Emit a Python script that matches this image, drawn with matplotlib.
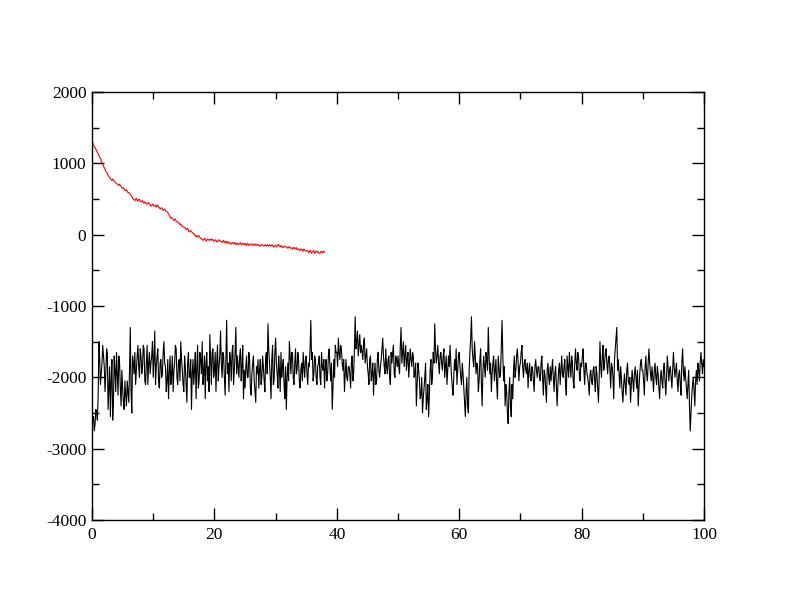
import numpy as np
import matplotlib
matplotlib.use("Agg")
import matplotlib.pyplot as plt
from matplotlib.ticker import MultipleLocator

# black series, sampled every 0.25 on x (0 .. 100)
black = [
    -2700, -2550, -2650, -2500, -2250, -1750, -1950, -1550, -1850, -1950, -1650, -2150,
    -2550, -1750, -2350, -1900, -1650, -2250, -1800, -2400, -2150, -2450, -2250, -2050,
    -2350, -1300, -2500, -1800, -1650, -1900, -1550, -2000, -1700, -1850, -1600, -2100,
    -1550, -1800, -1950, -1700, -2000, -1350, -1850, -1600, -2150, -1750, -1950, -1500,
    -1850, -2050, -2300, -1700, -1950, -2200, -1800, -1600, -2100, -1750, -1500, -1900,
    -2200, -1850, -2350, -1650, -2000, -2450, -1750, -1900, -2300, -1550, -2050, -1750,
    -1500, -1950, -2300, -1650, -1850, -1400, -2100, -1600, -1900, -2200, -1550, -1850,
    -1350, -2000, -1700, -2250, -1200, -1800, -1650, -2050, -1550, -1900, -1300, -1700,
    -2000, -1600, -1850, -2300, -2150, -1700, -2000, -1750, -2250, -1800, -2050, -2350,
    -1950, -2150, -1750, -2000, -1850, -2200, -1650, -1250, -1800, -2300, -1550, -2050,
    -1450, -1950, -1700, -2200, -2000, -1750, -2300, -2450, -1800, -1500, -1950, -1650,
    -2100, -1600, -1900, -1750, -2150, -1800, -1650, -2000, -1700, -2100, -1850, -1200,
    -1650, -1950, -1750, -2100, -1800, -2000, -1650, -1900, -2150, -1750, -1950, -1600,
    -2050, -2450, -1750, -1550, -1650, -1450, -1750, -1600, -1900, -2200, -1750, -2050,
    -1850, -2150, -1700, -1950, -1150, -1500, -1700, -1400, -1550, -1750, -1450, -1700,
    -1850, -2100, -1700, -1950, -2250, -1800, -2050, -1650, -2000, -1750, -1450, -1850,
    -1600, -1950, -1700, -2100, -1800, -1550, -2000, -1750, -1700, -1950, -1300, -1650,
    -1850, -1550, -1750, -2000, -1600, -1850, -1700, -1950, -2400, -1800, -2050, -2250,
    -2500, -2150, -1800, -2300, -2550, -1900, -2100, -1650, -1250, -1800, -1550, -1950,
    -1650, -1900, -1600, -1850, -2100, -1700, -1550, -2000, -2250, -1750, -1600, -1900,
    -1650, -2000, -1800, -2150, -2550, -2000, -2500, -1650, -1150, -1750, -1500, -1950,
    -1850, -2050, -1600, -2400, -1700, -2000, -1750, -1300, -1950, -2200, -1800, -2050,
    -1750, -2300, -1850, -1950, -1200, -2050, -2400, -2200, -2650, -2000, -2550, -2300,
    -1700, -1900, -1600, -2050, -1800, -1550, -2000, -1750, -1950, -2150, -1800, -2050,
    -1900, -2200, -1750, -2000, -1850, -2050, -1700, -2250, -1950, -2350, -1800, -2100,
    -2050, -1750, -2200, -1850, -2400, -1900, -2100, -1700, -2000, -1750, -2250, -1850,
    -1650, -2000, -1800, -2150, -1600, -1900, -1700, -2050, -1850, -1600, -2100, -1800,
    -2000, -2250, -1900, -2100, -1850, -2200, -1950, -2350, -1500, -2000, -1550, -1800,
    -1600, -1950, -1700, -2150, -1850, -2300, -1600, -1300, -1750, -2150, -2000, -2350,
    -1950, -2250, -1800, -2100, -2350, -1900, -2200, -1850, -2150, -2400, -1950, -1750,
    -1900, -2250, -1700, -2050, -1600, -1950, -1850, -2200, -1800, -2100, -1950, -2300,
    -1900, -2150, -1800, -2250, -1700, -2050, -1850, -2150, -1650, -2000, -1800, -2200,
    -1900, -2250, -1600, -2050, -2000, -2300, -1900, -2750, -2250, -2000, -2400, -1900,
    -1800, -2050, -1650, -1950, -1850,
]

# black samples in between (x = 0.125, 0.375, ...)
black_mid = [
    -2600, -2750, -2450, -2600, -1500, -2100, -1800, -1700, -2200, -1600, -2450, -1850,
    -2050, -2600, -1700, -2200, -1950, -1700, -2150, -1900, -2350, -2050, -2400, -2200,
    -1900, -2200, -1700, -1950, -2100, -1700, -1850, -1600, -1950, -1550, -2050, -1800,
    -2100, -1650, -1800, -1500, -1750, -2100, -1700, -2050, -1800, -2000, -1650, -1800,
    -2200, -1750, -1950, -2100, -1700, -1900, -1550, -2000, -1800, -2050, -1750, -2100,
    -1700, -2100, -1800, -2000, -1750, -1950, -2100, -1650, -1850, -2150, -1650, -1950,
    -2100, -1700, -1800, -2050, -2200, -1750, -1650, -2000, -1650, -1800, -2050, -1700,
    -1800, -1650, -2000, -1700, -1950, -2200, -1750, -1650, -2100, -1650, -1950, -1850,
    -1700, -2050, -1550, -1900, -1850, -2000, -1650, -2150, -1950, -1700, -2200, -1850,
    -1750, -1900, -2100, -1700, -2050, -1700, -1950, -1600, -2000, -1750, -2100, -1650,
    -1800, -2150, -1900, -1650, -1850, -2100, -1850, -2000, -2050, -1700, -1650, -2000,
    -1800, -1950, -1650, -2050, -1900, -2050, -1850, -1750, -1950, -1800, -1600, -1750,
    -2050, -1700, -2000, -1850, -1700, -2100, -1850, -1750, -1850, -2050, -1700, -1850,
    -1800, -2150, -2000, -1650, -1850, -1650, -1550, -1800, -1750, -1950, -2000, -1850,
    -1950, -1800, -2050, -1600, -1600, -1350, -1550, -1650, -1650, -1500, -1800, -1600,
    -1950, -1750, -2050, -1800, -1950, -2100, -1750, -1900, -1850, -1600, -1700, -1950,
    -1850, -1750, -2000, -1650, -1650, -1950, -1700, -1850, -1850, -1550, -1800, -1500,
    -1700, -1900, -1650, -1800, -1750, -1650, -2000, -1800, -2100, -1900, -2300, -2000,
    -2300, -2000, -2450, -2100, -2250, -1750, -2000, -1800, -1600, -1700, -1800, -1700,
    -1800, -1700, -2000, -1700, -1900, -1850, -1800, -2150, -1950, -1900, -2100, -1700,
    -1850, -2100, -1950, -2350, -2200, -2400, -1900, -1450, -1600, -1850, -1700, -1800,
    -2200, -1750, -2100, -1900, -1850, -1650, -1900, -1700, -1800, -1950, -1700, -1900,
    -2100, -1700, -2000, -1600, -1700, -1850, -2100, -2500, -2200, -2400, -2100, -1900,
    -2000, -1700, -1800, -1850, -1650, -1850, -1800, -1900, -1800, -1900, -2000, -1850,
    -2050, -1850, -1900, -1850, -2000, -1800, -2000, -1900, -2150, -1900, -2000, -1850,
    -1900, -2000, -1950, -2100, -2100, -1800, -1900, -1950, -1850, -2100, -1700, -2000,
    -1850, -1700, -2050, -1800, -1800, -1650, -1950, -1800, -1700, -1900, -1800, -1950,
    -2100, -1950, -2050, -1900, -2050, -1850, -2150, -2000, -1850, -1700, -1900, -1650,
    -1800, -1750, -1900, -1800, -2000, -1750, -1450, -1900, -1950, -1850, -2200, -2100,
    -2100, -1900, -2050, -2000, -2100, -2050, -1950, -2000, -1900, -2150, -1800, -1900,
    -2050, -1850, -1950, -1800, -1800, -2050, -2000, -1900, -2000, -1850, -2150, -2000,
    -2050, -1900, -2050, -2000, -1850, -1900, -2000, -1900, -1850, -1900, -2050, -1950,
    -2100, -1800, -1900, -1850, -2150, -2100, -2400, -2500, -2100, -2200, -2050, -2100,
    -1900, -1800, -1800, -1750,
]

# red series, sampled every 0.25 on x (0 .. 38)
red = [
    1300, 1260, 1220, 1180, 1140, 1090, 1040, 990, 940, 890, 860, 820,
    790, 760, 770, 740, 720, 700, 710, 680, 650, 640, 620, 610,
    590, 570, 540, 500, 480, 510, 470, 490, 460, 480, 440, 450,
    430, 450, 420, 410, 420, 400, 390, 410, 380, 370, 360, 350,
    340, 320, 300, 250, 240, 220, 210, 190, 180, 160, 150, 120,
    110, 90, 80, 60, 50, 40, 20, 0, -10, -30, -20, -50,
    -60, -70, -60, -80, -70, -60, -80, -70, -90, -80, -100, -70,
    -90, -110, -80, -100, -120, -100, -110, -130, -110, -120, -140, -120,
    -130, -110, -140, -130, -120, -150, -130, -140, -130, -150, -140, -130,
    -150, -140, -160, -140, -150, -140, -160, -150, -140, -160, -150, -170,
    -150, -160, -140, -170, -160, -180, -160, -170, -190, -170, -180, -200,
    -180, -190, -210, -200, -220, -200, -230, -210, -230, -220, -250, -230,
    -240, -220, -250, -230, -240, -260, -230, -250, -240,
]

# red samples in between
red_mid = [
    1285, 1230, 1200, 1150, 1110, 1070, 1010, 960, 920, 870, 830, 800,
    770, 780, 750, 730, 710, 690, 690, 660, 660, 620, 630, 590,
    580, 550, 520, 490, 500, 480, 500, 470, 470, 450, 460, 430,
    440, 430, 400, 430, 400, 410, 420, 390, 360, 380, 340, 360,
    330, 310, 270, 230, 230, 200, 220, 180, 170, 140, 130, 110,
    100, 70, 90, 40, 60, 30, 10, -20, -30, -10, -40, -60,
    -80, -50, -90, -60, -80, -70, -60, -90, -70, -100, -80, -90,
    -100, -90, -110, -90, -100, -120, -130, -110, -130, -110, -120, -140,
    -120, -140, -120, -140, -140, -120, -150, -130, -140, -130, -150, -140,
    -140, -160, -140, -150, -160, -150, -140, -160, -160, -140, -170, -150,
    -170, -140, -160, -150, -180, -160, -170, -180, -170, -190, -190, -180,
    -200, -180, -200, -220, -200, -220, -200, -230, -220, -250, -220, -260,
    -230, -260, -230, -250, -260, -240, -250, -230,
]

y_black = np.empty(len(black) + len(black_mid))
y_black[0::2] = black
y_black[1::2] = black_mid
x_black = np.linspace(0, 100, len(y_black))

y_red = np.empty(len(red) + len(red_mid))
y_red[0::2] = red
y_red[1::2] = red_mid
x_red = np.linspace(0, 38, len(y_red))

plt.rcParams["font.family"] = ["Liberation Serif", "DejaVu Serif"]
plt.rcParams["axes.unicode_minus"] = False

fig = plt.figure(figsize=(7.92, 6.12), dpi=100)
ax = fig.add_axes([0.1162, 0.1503, 0.7727, 0.6993])

ax.plot(x_black, y_black, color="black", linewidth=0.8)
ax.plot(x_red, y_red, color="red", linewidth=0.8)

ax.set_xlim(0, 100)
ax.set_ylim(-4000, 2000)
ax.xaxis.set_major_locator(MultipleLocator(20))
ax.xaxis.set_minor_locator(MultipleLocator(10))
ax.yaxis.set_major_locator(MultipleLocator(1000))
ax.yaxis.set_minor_locator(MultipleLocator(500))

ax.tick_params(which="both", direction="in", top=True, right=True,
               width=1, labelsize=12.5, color="black")
ax.tick_params(which="major", length=8.5)
ax.tick_params(which="minor", length=4.8)
ax.tick_params(axis="x", pad=5)
ax.tick_params(axis="y", pad=4)
for s in ax.spines.values():
    s.set_linewidth(1)

fig.savefig("out.png", dpi=100)
